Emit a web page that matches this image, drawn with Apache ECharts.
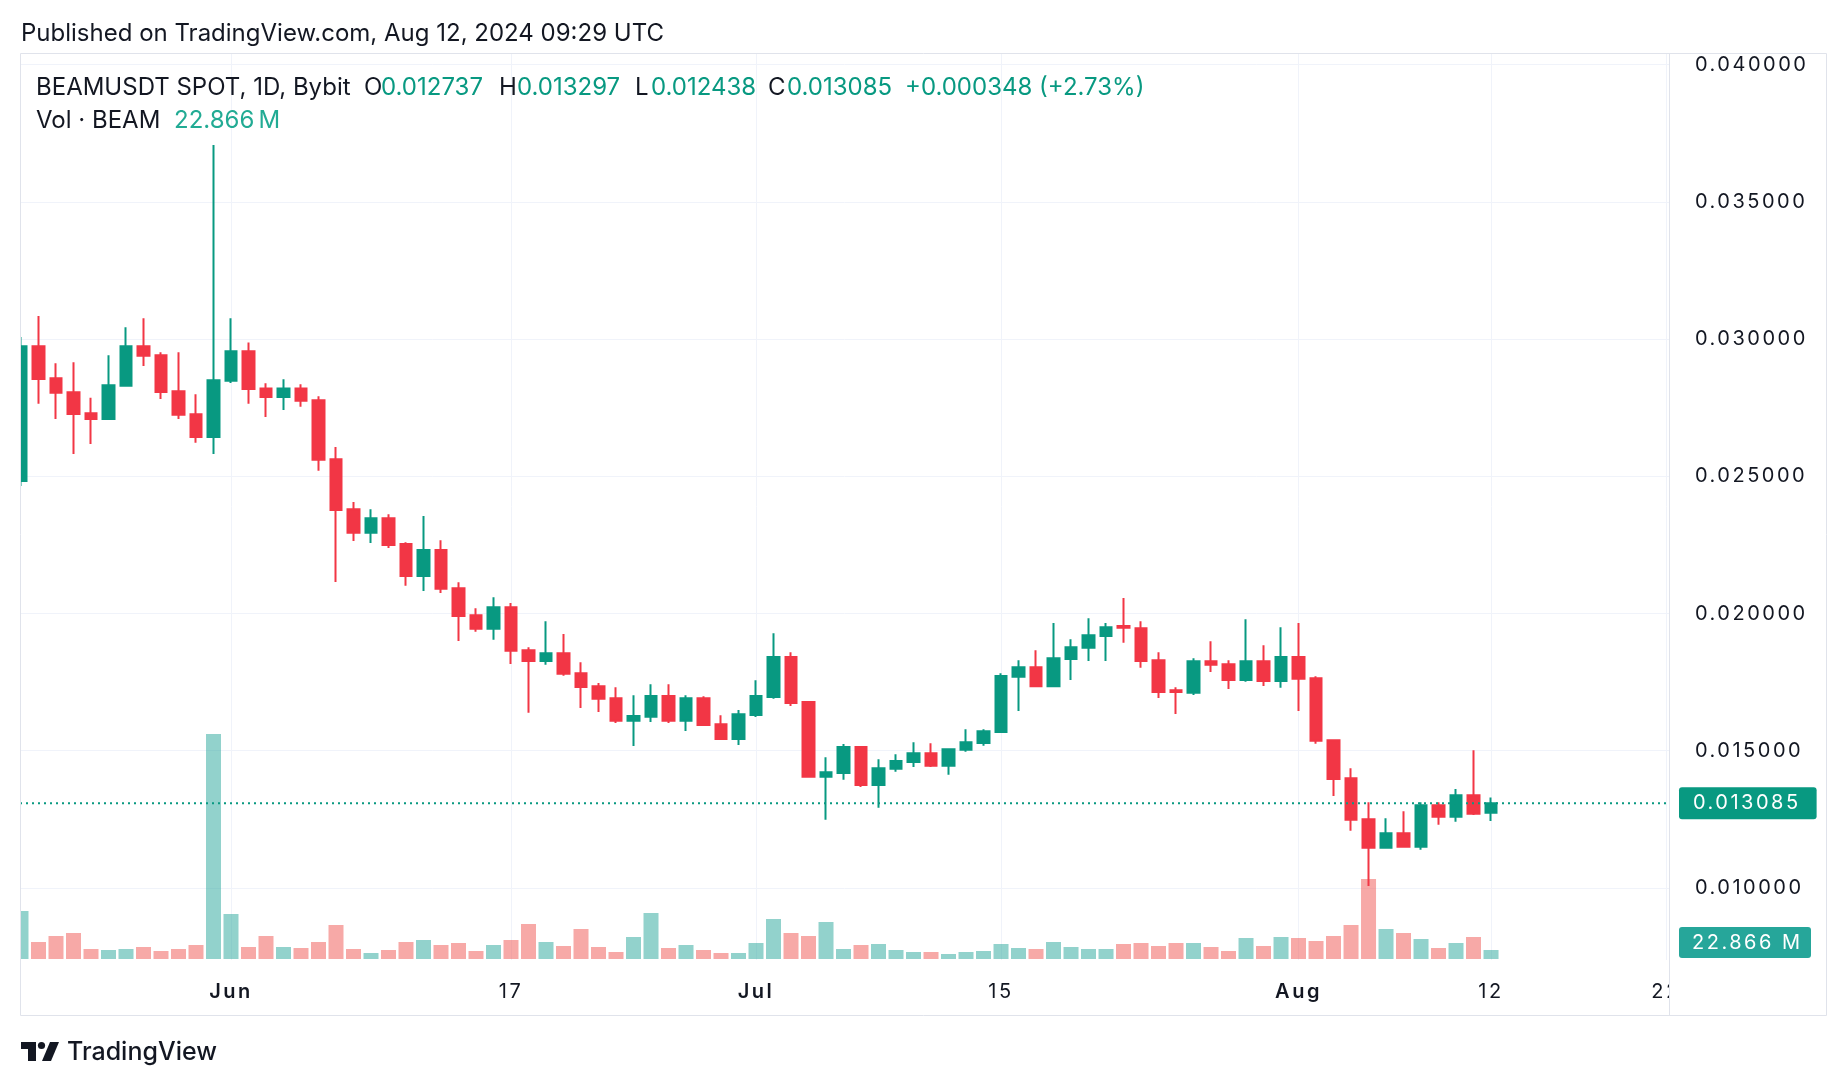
<!DOCTYPE html>
<html><head><meta charset="utf-8">
<script src="https://cdn.jsdelivr.net/npm/echarts@6.0.0/dist/echarts.min.js"></script>
<style>html,body{margin:0;padding:0;background:#fff}#c{width:1846px;height:1086px}</style>
</head><body><div id="c"></div>
<script>
const dates = ['May 20','May 21','May 22','May 23','May 24','May 25','May 26','May 27','May 28','May 29','May 30','May 31',
'Jun 1','Jun 2','Jun 3','Jun 4','Jun 5','Jun 6','Jun 7','Jun 8','Jun 9','Jun 10','Jun 11','Jun 12','Jun 13','Jun 14','Jun 15',
'Jun 16','Jun 17','Jun 18','Jun 19','Jun 20','Jun 21','Jun 22','Jun 23','Jun 24','Jun 25','Jun 26','Jun 27','Jun 28','Jun 29','Jun 30',
'Jul 1','Jul 2','Jul 3','Jul 4','Jul 5','Jul 6','Jul 7','Jul 8','Jul 9','Jul 10','Jul 11','Jul 12','Jul 13','Jul 14','Jul 15',
'Jul 16','Jul 17','Jul 18','Jul 19','Jul 20','Jul 21','Jul 22','Jul 23','Jul 24','Jul 25','Jul 26','Jul 27','Jul 28','Jul 29','Jul 30','Jul 31',
'Aug 1','Aug 2','Aug 3','Aug 4','Aug 5','Aug 6','Aug 7','Aug 8','Aug 9','Aug 10','Aug 11','Aug 12'];
const open = [0.02483,0.02974,0.02857,0.02806,0.02730,0.02709,0.02830,0.02974,0.02941,0.02810,0.02726,0.02643,
0.02848,0.02956,0.02820,0.02789,0.02820,0.02777,0.02562,0.02380,0.02294,0.02347,0.02253,0.02137,0.02231,0.02092,0.01994,
0.01944,0.02023,0.01866,0.01827,0.01855,0.01782,0.01735,0.01691,0.01609,0.01624,0.01699,0.01609,0.01691,0.01596,0.01543,
0.01630,0.01696,0.01841,0.01677,0.01405,0.01419,0.01513,0.01375,0.01434,0.01459,0.01491,0.01445,0.01503,0.01528,0.01568,
0.01769,0.01804,0.01735,0.01834,0.01875,0.01918,0.01954,0.01946,0.01830,0.01720,0.01711,0.01826,0.01815,0.01758,0.01826,0.01754,
0.01841,0.01764,0.01538,0.01400,0.01250,0.01146,0.01199,0.01150,0.01301,0.01259,0.01338,0.012737];
const high = [0.03008,0.03084,0.02912,0.02916,0.02786,0.02941,0.03043,0.03076,0.02952,0.02952,0.02799,0.03707,
0.03076,0.02988,0.02839,0.02854,0.02835,0.02792,0.02607,0.02406,0.02380,0.02362,0.02260,0.02355,0.02267,0.02114,0.02019,
0.02059,0.02038,0.01877,0.01972,0.01925,0.01822,0.01747,0.01731,0.01702,0.01742,0.01742,0.01702,0.01698,0.01629,0.01648,
0.01757,0.01928,0.01859,0.01680,0.01476,0.01524,0.01513,0.01469,0.01487,0.01531,0.01527,0.01509,0.01578,0.01578,0.01782,
0.01830,0.01866,0.01965,0.01906,0.01983,0.01965,0.02056,0.01972,0.01859,0.01731,0.01837,0.01899,0.01830,0.01979,0.01884,0.01950,
0.01965,0.01771,0.01538,0.01436,0.01312,0.01254,0.01279,0.01312,0.01312,0.01360,0.01502,0.013297];
const low = [0.02465,0.02764,0.02709,0.02581,0.02618,0.02705,0.02828,0.02902,0.02782,0.02709,0.02622,0.02581,
0.02840,0.02764,0.02716,0.02742,0.02753,0.02520,0.02115,0.02264,0.02257,0.02239,0.02101,0.02082,0.02075,0.01900,0.01933,
0.01904,0.01816,0.01638,0.01813,0.01773,0.01656,0.01641,0.01601,0.01517,0.01605,0.01601,0.01572,0.01590,0.01543,0.01521,
0.01623,0.01689,0.01663,0.01405,0.01248,0.01394,0.01368,0.01292,0.01423,0.01441,0.01441,0.01412,0.01496,0.01518,0.01568,
0.01645,0.01733,0.01735,0.01758,0.01827,0.01827,0.01893,0.01802,0.01692,0.01634,0.01703,0.01787,0.01725,0.01751,0.01736,0.01729,
0.01645,0.01525,0.01335,0.01208,0.01007,0.01146,0.01146,0.01139,0.01230,0.01241,0.01266,0.012438];
const close = [0.02974,0.02855,0.02804,0.02727,0.02709,0.02832,0.02974,0.02939,0.02807,0.02724,0.02643,0.02850,
0.02956,0.02818,0.02789,0.02820,0.02775,0.02560,0.02377,0.02294,0.02347,0.02250,0.02137,0.02231,0.02090,0.01991,0.01944,
0.02023,0.01864,0.01827,0.01855,0.01780,0.01732,0.01689,0.01609,0.01626,0.01699,0.01609,0.01691,0.01594,0.01543,0.01633,
0.01699,0.01841,0.01674,0.01405,0.01421,0.01513,0.01375,0.01436,0.01462,0.01491,0.01445,0.01505,0.01531,0.01571,0.01772,
0.01804,0.01735,0.01837,0.01877,0.01921,0.01950,0.01948,0.01827,0.01714,0.01714,0.01826,0.01813,0.01758,0.01826,0.01754,0.01841,
0.01762,0.01536,0.01397,0.01248,0.01146,0.01199,0.01150,0.01301,0.01259,0.01338,0.01270,0.013085];
// volume in millions of BEAM
const volume = [121.9,43.2,58.4,66.0,25.4,22.9,25.4,30.5,20.3,25.4,35.6,571.5,
114.3,30.5,58.4,30.5,27.9,43.2,86.4,25.4,15.2,22.9,43.2,48.3,35.6,40.6,20.3,
35.6,48.3,88.9,43.2,33.0,76.2,30.5,17.8,55.9,116.8,27.9,35.6,22.9,15.2,15.2,
40.6,101.6,66.0,58.4,94.0,25.4,35.6,38.1,22.9,17.8,17.8,12.7,17.8,20.3,38.1,
27.9,25.4,43.2,30.5,25.4,25.4,38.1,40.6,33.0,40.6,40.6,30.5,20.3,53.3,33.0,55.9,
53.3,45.7,58.4,86.4,203.2,76.2,66.0,50.8,27.9,40.6,55.9,22.866];
const xTickIdx = [12, 28, 42, 56, 73, 84, 94];
const xTickLabels = ['Jun', '17', 'Jul', '15', 'Aug', '12', '22'];
const monthLabels = ['Jun', 'Jul', 'Aug'];
const yTicks = [0.01, 0.015, 0.02, 0.025, 0.03, 0.035, 0.04];
const lastPrice = 0.013085;
const lastVolume = 22.866;

// Header texts use FONT (contains Roboto fallback); scale texts use FONT_AX and are letter-spaced like TradingView
const FONT = 'Inter, Roboto, sans-serif';
const FONT_AX = 'Inter, sans-serif';
(function () {
  const proto = CanvasRenderingContext2D.prototype;
  if (!('letterSpacing' in proto)) return;
  const orig = proto.fillText;
  proto.fillText = function (text, x, y, mw) {
    this.letterSpacing = /Roboto/.test(this.font) ? '0px' : '2.5px';
    return (mw === undefined) ? orig.call(this, text, x, y) : orig.call(this, text, x, y, mw);
  };
})();

const GREEN = '#089981', RED = '#F23645';
const TXT = '#131722';
const XMIN = -0.057, XMAX = 94.17;
const YMIN = 0.007372, YMAX = 0.040426;

const candleData = dates.map((d, i) => [i, open[i], close[i], low[i], high[i]]);
const volData = dates.map((d, i) => ({
  value: [i, volume[i]],
  itemStyle: { color: close[i] >= open[i] ? 'rgba(38,166,154,0.5)' : 'rgba(239,83,80,0.5)' }
}));

const chart = echarts.init(document.getElementById('c'), null, { renderer: 'canvas' });
function t(x, y, text, color, size, weight) {
  return { type: 'text', x: x, y: y, z: 100,
    style: { text: text, fill: color, font: (weight || 400) + ' ' + size + 'px ' + FONT, verticalAlign: 'middle', align: 'left' } };
}
const H1 = 34, H2 = 88, H3 = 121;
const option = {
  animation: false,
  backgroundColor: '#ffffff',
  grid: [
    { left: 20, top: 53, width: 1649, height: 907 },
    { left: 20, top: 659, width: 1649, height: 300 }
  ],
  xAxis: [
    { type: 'value', gridIndex: 0, min: XMIN, max: XMAX,
      axisLine: { show: false },
      axisTick: { show: false, customValues: xTickIdx },
      splitLine: { show: true, lineStyle: { color: '#f0f3fa', width: 1 } },
      axisLabel: { customValues: xTickIdx, margin: 22, color: TXT, fontSize: 20, fontFamily: FONT_AX,
        formatter: function (v) {
          const k = xTickIdx.indexOf(Math.round(v));
          if (k < 0) return '';
          const s = xTickLabels[k];
          return monthLabels.indexOf(s) >= 0 ? '{m|' + s + '}' : s;
        },
        rich: { m: { fontWeight: 600, fontSize: 20, fontFamily: FONT_AX, color: TXT } }
      }
    },
    { type: 'value', gridIndex: 1, min: XMIN, max: XMAX, show: false, splitLine: { show: false } }
  ],
  yAxis: [
    { type: 'value', gridIndex: 0, position: 'right', min: YMIN, max: YMAX,
      axisLine: { show: false },
      axisTick: { show: false, customValues: yTicks },
      splitLine: { show: true, lineStyle: { color: '#f0f3fa', width: 1 } },
      axisLabel: { customValues: yTicks, margin: 26, color: TXT, fontSize: 20, fontFamily: FONT_AX,
        formatter: function (v) { return v.toFixed(6); } }
    },
    { type: 'value', gridIndex: 1, min: 0, max: 762, show: false, splitLine: { show: false } }
  ],
  series: [
    { type: 'bar', xAxisIndex: 1, yAxisIndex: 1, data: volData, barWidth: 15 },
    { type: 'candlestick', xAxisIndex: 0, yAxisIndex: 0, data: candleData,
      encode: { x: 0, y: [1, 2, 3, 4] }, barWidth: 12,
      itemStyle: { color: GREEN, color0: RED, borderColor: GREEN, borderColor0: RED, borderWidth: 2 }
    },
    { type: 'line', xAxisIndex: 0, yAxisIndex: 0, silent: true, z: 5,
      data: [[XMIN, lastPrice], [XMAX, lastPrice]], symbol: 'none',
      lineStyle: { color: GREEN, type: [2, 4], width: 2 },
      endLabel: { show: true, distance: 10, formatter: function () { return lastPrice.toFixed(6); },
        color: '#fff', backgroundColor: GREEN, borderRadius: 3, fontSize: 20, fontFamily: FONT_AX,
        padding: [6, 36, 6, 14] }
    }
  ],
  graphic: [
    { type: 'rect', z: 90, shape: { x: 0, y: 53, width: 20, height: 910 }, style: { fill: '#fff' } },
    { type: 'rect', z: 90, shape: { x: 1670, y: 962, width: 155, height: 52 }, style: { fill: '#fff' } },
    { type: 'rect', z: 95, shape: { x: 1679, y: 927, width: 132, height: 31, r: 3 }, style: { fill: '#26a69a' } },
    { type: 'text', z: 96, x: 1692, y: 943, style: { text: lastVolume.toFixed(3) + ' M', fill: '#fff', font: '400 20px ' + FONT_AX, verticalAlign: 'middle' } },
    { type: 'line', z: 97, shape: { x1: 1669.5, y1: 53, x2: 1669.5, y2: 1015 }, style: { stroke: '#e0e3eb', lineWidth: 1 } },
    { type: 'rect', z: 97, shape: { x: 20.5, y: 53.5, width: 1806, height: 962 }, style: { fill: 'none', stroke: '#e0e3eb', lineWidth: 1 } },
    t(21, H1, 'Published on TradingView.com, Aug 12, 2024 09:29 UTC', TXT, 24),
    t(36, H2, 'BEAMUSDT SPOT, 1D, Bybit', TXT, 24),
    t(364, H2, 'O', TXT, 24), t(381, H2, open[84].toFixed(6), GREEN, 24),
    t(499, H2, 'H', TXT, 24), t(517, H2, high[84].toFixed(6), GREEN, 24),
    t(635, H2, 'L', TXT, 24), t(651, H2, low[84].toFixed(6), GREEN, 24),
    t(768, H2, 'C', TXT, 24), t(787, H2, close[84].toFixed(6), GREEN, 24),
    t(905, H2, '+0.000348 (+2.73%)', GREEN, 24),
    t(36, H3, 'Vol · BEAM', TXT, 24),
    t(174, H3, lastVolume.toFixed(3) + '\u2009M', '#22ab94', 24),
    // TradingView logo
    { type: 'polygon', z: 100, shape: { points: [[21,1042],[36,1042],[36,1061],[28,1061],[28,1049],[21,1049]] }, style: { fill: TXT } },
    { type: 'circle', z: 100, shape: { cx: 41.5, cy: 1045.5, r: 3.6 }, style: { fill: TXT } },
    { type: 'polygon', z: 100, shape: { points: [[50,1042],[59,1042],[51,1061],[42,1061]] }, style: { fill: TXT } },
    t(67, 1052, 'TradingView', TXT, 25, 500)
  ]
};
chart.setOption(option);
</script></body></html>
